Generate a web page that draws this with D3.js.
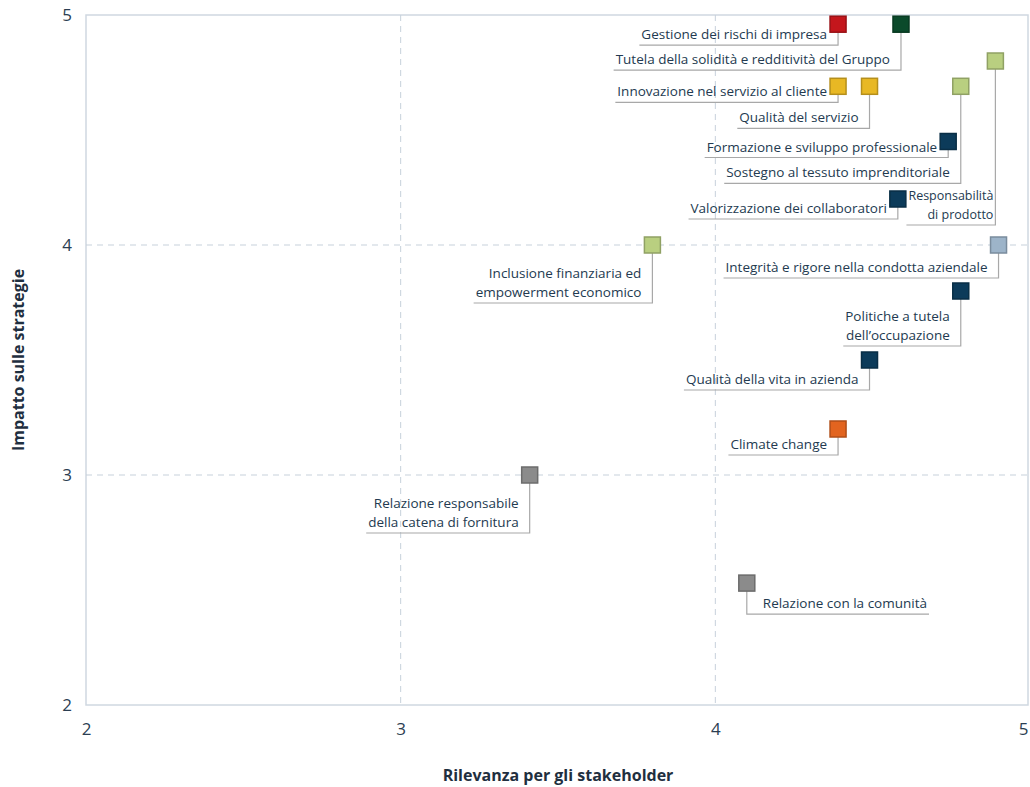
<!DOCTYPE html>
<html>
<head>
<meta charset="utf-8">
<script src="https://cdn.jsdelivr.net/npm/d3@7"></script>
<style>
    body { margin: 0; background: #fff; }
    svg text { font-family: "Open Sans", Lato, sans-serif; }
</style>
</head>
<body>
<svg id="chart"></svg>
<script>
const width = 1030;
const height = 787;

// materiality topics
const topics = [
    'Gestione dei rischi di impresa',
    'Tutela della solidità e redditività del Gruppo',
    'Responsabilità\ndi prodotto',
    'Sostegno al tessuto imprenditoriale',
    'Innovazione nel servizio al cliente',
    'Qualità del servizio',
    'Formazione e sviluppo professionale',
    'Valorizzazione dei collaboratori',
    'Inclusione finanziaria ed\nempowerment economico',
    'Integrità e rigore nella condotta aziendale',
    'Politiche a tutela\ndell\u2019occupazione',
    'Qualità della vita in azienda',
    'Climate change',
    'Relazione responsabile\ndella catena di fornitura',
    'Relazione con la comunità'
];
const relevance = [4.39, 4.59, 4.89, 4.78, 4.39, 4.49, 4.74, 4.58, 3.8, 4.9, 4.78, 4.49, 4.39, 3.41, 4.1];
const impact = [4.96, 4.96, 4.8, 4.69, 4.69, 4.69, 4.45, 4.2, 4.0, 4.0, 3.8, 3.5, 3.2, 3.0, 2.53];
const areas = ['rischi', 'governance', 'prodotto', 'prodotto', 'cliente', 'cliente', 'persone', 'persone',
    'prodotto', 'etica', 'persone', 'persone', 'ambiente', 'fornitori', 'fornitori'];

const areaNames = ['rischi', 'governance', 'prodotto', 'cliente', 'persone', 'etica', 'ambiente', 'fornitori'];
const areaColors = ['#c4161c', '#0b4a2b', '#b9cf80', '#e8b824', '#0c3b5a', '#9db4c9', '#e2641f', '#8b8b8b'];

const xTicks = [2, 3, 4, 5];
const yTicks = [2, 3, 4, 5];

// label layout: drop of the leader line below the marker (px), side, gap to the line, font size
const labelDrop = [21, 46, 164, 97, 16, 42, 16, 20, 58, 33, 55, 30, 26, 58, 31];
const labelSide = ['l', 'l', 'l', 'l', 'l', 'l', 'l', 'l', 'l', 'l', 'l', 'l', 'l', 'l', 'r'];
const labelGap = [11, 11, 2, 11, 11, 11, 11, 11, 11, 11, 11, 11, 11, 11, 16];
const labelSize = [13.5, 13.5, 12.5, 13.5, 13.5, 13.5, 13.5, 13.5, 13.5, 13.5, 13.5, 13.5, 13.5, 13.5, 13.5];

const margin = {top: 15, right: 0, bottom: 82, left: 86};

const svg = d3.select('#chart')
    .attr('width', width)
    .attr('height', height);

const x = d3.scaleLinear().domain([2, 5]).range([margin.left, width - margin.right]);
const y = d3.scaleLinear().domain([2, 5]).range([height - margin.bottom, margin.top]);
const color = d3.scaleOrdinal().domain(areaNames).range(areaColors);

const points = topics.map((t, i) => ({
    name: t,
    x: relevance[i],
    y: impact[i],
    area: areas[i],
    drop: labelDrop[i],
    side: labelSide[i],
    gap: labelGap[i],
    size: labelSize[i]
}));

// frame
svg.append('rect')
    .attr('x', x(2))
    .attr('y', y(5))
    .attr('width', x(5) - x(2) - 2)
    .attr('height', y(2) - y(5))
    .attr('fill', 'none')
    .attr('stroke', '#cfd8e1')
    .attr('stroke-width', 1.5);

// grid
const grid = svg.append('g').attr('class', 'grid');
grid.selectAll('line.vx')
    .data([3, 4])
    .join('line')
    .attr('x1', d => x(d)).attr('x2', d => x(d))
    .attr('y1', y(5)).attr('y2', y(2))
    .attr('stroke', '#c7d1db')
    .attr('stroke-dasharray', '6,5');
grid.selectAll('line.hy')
    .data([3, 4])
    .join('line')
    .attr('y1', d => y(d)).attr('y2', d => y(d))
    .attr('x1', x(2)).attr('x2', x(5))
    .attr('stroke', '#c7d1db')
    .attr('stroke-dasharray', '6,5');

// axes
const xAxis = svg.append('g')
    .attr('transform', `translate(0,${y(2)})`)
    .call(d3.axisBottom(x).tickValues(xTicks).tickSize(0).tickPadding(18).tickFormat(d3.format('d')));
const yAxis = svg.append('g')
    .attr('transform', `translate(${x(2)},0)`)
    .call(d3.axisLeft(y).tickValues(yTicks).tickSize(0).tickPadding(14).tickFormat(d3.format('d')));
[xAxis, yAxis].forEach(a => {
    a.select('.domain').remove();
    a.selectAll('text')
        .attr('fill', '#2b3e52')
        .style('font-size', '17px');
});
xAxis.selectAll('text').filter(d => d === 5).attr('text-anchor', 'end').attr('dx', -2);

svg.append('text')
    .attr('x', 558)
    .attr('y', 781)
    .attr('text-anchor', 'middle')
    .attr('fill', '#1f2f40')
    .style('font-size', '16px')
    .style('font-weight', 'bold')
    .text('Rilevanza per gli stakeholder');

svg.append('text')
    .attr('transform', `translate(24,${(y(2) + y(5)) / 2}) rotate(-90)`)
    .attr('text-anchor', 'middle')
    .attr('fill', '#1f2f40')
    .style('font-size', '16px')
    .style('font-weight', 'bold')
    .text('Impatto sulle strategie');

// leader lines and labels
const elLabels = svg.append('g').attr('class', 'labels');
points.forEach(p => {
    const cx = x(p.x);
    const cy = y(p.y);
    const ly = cy + p.drop;
    const lines = p.name.split('\n');
    const g = elLabels.append('g');
    const txt = g.append('text')
        .attr('fill', '#233a50')
        .style('font-size', `${p.size}px`)
        .attr('text-anchor', p.side === 'l' ? 'end' : 'start');
    lines.forEach((l, j) => {
        txt.append('tspan')
            .attr('x', p.side === 'l' ? cx - p.gap : cx + p.gap)
            .attr('y', ly - 6 - (lines.length - 1 - j) * 19)
            .text(l);
    });
    const bb = txt.node().getBBox();
    const xEnd = p.side === 'l' ? bb.x - 2 : bb.x + bb.width + 2;
    g.insert('path', 'text')
        .attr('d', `M${cx},${cy}V${ly}H${xEnd}`)
        .attr('fill', 'none')
        .attr('stroke', '#a8a8a8')
        .attr('stroke-width', 1.2);
});

// markers
svg.append('g')
    .attr('class', 'markers')
    .selectAll('rect')
    .data(points)
    .join('rect')
    .attr('x', d => x(d.x) - 8)
    .attr('y', d => y(d.y) - 8)
    .attr('width', 16)
    .attr('height', 16)
    .attr('fill', d => color(d.area))
    .attr('stroke', d => d3.color(color(d.area)).darker(0.7))
    .attr('stroke-width', 1.5);
</script>
</body>
</html>
